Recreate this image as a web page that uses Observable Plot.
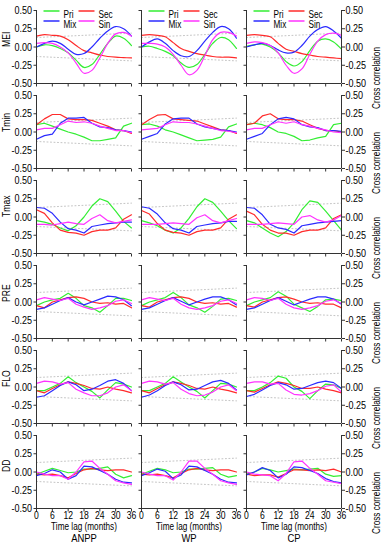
<!DOCTYPE html>
<html><head><meta charset="utf-8">
<script src="https://cdn.jsdelivr.net/npm/d3@7"></script>
<script src="https://cdn.jsdelivr.net/npm/@observablehq/plot@0.6"></script>
<style>
body{margin:0;background:#fff;}
#chart svg{display:block;}
</style></head><body><div id="chart"></div>
<script>
const lags = [0, 3, 6, 9, 12, 15, 18, 21, 24, 27, 30, 33, 36];
const xTicks = [0, 6, 12, 18, 24, 30, 36];
const yTicks = [-0.5, -0.25, 0, 0.25, 0.5];
const xDomain = [0, 36];
const yDomain = [-0.5, 0.5];
const columns = ["ANPP", "WP", "CP"];
const variables = ["MEI", "Tmin", "Tmax", "PRE", "FLO", "DD"];
const seriesNames = ["Pri", "Sec", "Mix", "Sin"];
const colors = ["#33ee33", "#ff2b2b", "#2b2bff", "#ff33ff"];
const xLabel = "Time lag (months)";
const yLabelRight = "Cross correlation";
const sigLags = [0, 36];
const sigUpper = [0.13, 0.19];
const sigLower = [-0.13, -0.19];

// each: [Pri, Sec, Mix, Sin] at lags
const MEI_ANPP = [
  [0.00, 0.03, 0.02, -0.02, -0.08, -0.18, -0.28, -0.24, -0.10, 0.05, 0.15, 0.12, 0.02],
  [0.15, 0.17, 0.16, 0.15, 0.10, 0.02, -0.05, -0.08, -0.11, -0.13, -0.14, -0.145, -0.15],
  [0.00, 0.05, 0.08, 0.05, -0.03, -0.10, -0.09, 0.00, 0.12, 0.22, 0.28, 0.25, 0.15],
  [0.05, 0.06, 0.05, 0.00, -0.08, -0.22, -0.36, -0.32, -0.15, 0.05, 0.18, 0.20, 0.15]];
const MEI_WP = [
  [0.00, 0.01, -0.02, -0.06, -0.12, -0.22, -0.28, -0.24, -0.10, 0.05, 0.13, 0.10, -0.02],
  [0.16, 0.17, 0.16, 0.14, 0.06, -0.02, -0.06, -0.09, -0.11, -0.13, -0.14, -0.14, -0.15],
  [0.00, 0.07, 0.11, 0.05, -0.05, -0.12, -0.13, -0.05, 0.08, 0.20, 0.28, 0.25, 0.12],
  [0.05, 0.05, 0.04, 0.00, -0.10, -0.25, -0.38, -0.32, -0.12, 0.10, 0.20, 0.20, 0.15]];
const MEI_CP = [
  [0.01, 0.03, 0.04, 0.00, -0.08, -0.20, -0.26, -0.20, -0.05, 0.08, 0.11, 0.07, -0.03],
  [0.16, 0.17, 0.16, 0.14, 0.05, -0.03, -0.06, -0.09, -0.11, -0.13, -0.14, -0.15, -0.16],
  [0.00, 0.03, 0.05, 0.02, -0.04, -0.08, -0.07, 0.02, 0.15, 0.24, 0.28, 0.22, 0.12],
  [0.05, 0.07, 0.06, 0.02, -0.08, -0.25, -0.36, -0.30, -0.10, 0.08, 0.17, 0.19, 0.16]];
const Tmin_ANPP = [
  [0.10, 0.12, 0.08, 0.04, 0.00, -0.03, -0.07, -0.12, -0.12, -0.10, -0.08, 0.08, 0.12],
  [0.10, 0.18, 0.24, 0.24, 0.18, 0.17, 0.17, 0.16, 0.12, 0.08, 0.03, 0.02, -0.02],
  [-0.10, -0.05, -0.03, 0.12, 0.19, 0.19, 0.20, 0.12, 0.07, 0.06, 0.03, 0.02, 0.00],
  [0.03, 0.05, 0.05, 0.10, 0.15, 0.13, 0.14, 0.12, 0.08, 0.05, 0.02, 0.02, -0.01]];
const Tmin_WP = [
  [0.10, 0.11, 0.08, 0.03, 0.00, -0.04, -0.08, -0.12, -0.11, -0.10, -0.07, 0.07, 0.11],
  [0.10, 0.17, 0.23, 0.24, 0.18, 0.17, 0.16, 0.15, 0.11, 0.07, 0.03, 0.02, -0.02],
  [-0.10, -0.06, -0.02, 0.11, 0.18, 0.19, 0.19, 0.11, 0.07, 0.05, 0.03, 0.02, 0.00],
  [0.03, 0.04, 0.05, 0.10, 0.14, 0.13, 0.13, 0.11, 0.08, 0.05, 0.02, 0.01, -0.01]];
const Tmin_CP = [
  [0.10, 0.12, 0.10, 0.06, 0.00, -0.02, -0.06, -0.12, -0.11, -0.08, -0.06, 0.10, 0.12],
  [0.10, 0.12, 0.22, 0.25, 0.18, 0.17, 0.17, 0.15, 0.10, 0.05, 0.02, 0.02, 0.00],
  [-0.10, -0.06, -0.02, 0.10, 0.18, 0.20, 0.18, 0.10, 0.07, 0.06, 0.02, 0.02, 0.01],
  [0.03, 0.05, 0.05, 0.10, 0.14, 0.12, 0.14, 0.10, 0.08, 0.05, 0.03, 0.00, -0.01]];
const Tmax_ANPP = [
  [-0.05, -0.07, -0.10, -0.15, -0.19, -0.12, 0.00, 0.15, 0.25, 0.21, 0.08, -0.06, -0.15],
  [0.10, 0.05, -0.08, -0.18, -0.21, -0.22, -0.25, -0.20, -0.18, -0.18, -0.15, -0.03, 0.03],
  [0.13, 0.12, 0.05, -0.07, -0.16, -0.18, -0.22, -0.13, -0.11, -0.09, -0.08, -0.07, -0.07],
  [-0.10, -0.10, -0.11, -0.09, -0.07, -0.09, -0.10, -0.02, 0.03, -0.05, -0.08, -0.06, -0.04]];
const Tmax_WP = [
  [-0.05, -0.08, -0.12, -0.18, -0.22, -0.15, -0.02, 0.14, 0.25, 0.20, 0.08, -0.05, -0.16],
  [0.09, 0.04, -0.09, -0.18, -0.21, -0.22, -0.25, -0.20, -0.18, -0.18, -0.15, -0.03, 0.03],
  [0.14, 0.12, 0.04, -0.08, -0.16, -0.18, -0.22, -0.13, -0.11, -0.09, -0.08, -0.06, -0.06],
  [-0.10, -0.10, -0.10, -0.09, -0.08, -0.09, -0.10, -0.01, 0.03, -0.05, -0.08, -0.05, -0.02]];
const Tmax_CP = [
  [-0.05, -0.08, -0.15, -0.22, -0.27, -0.20, -0.08, 0.10, 0.22, 0.20, 0.08, -0.05, -0.18],
  [0.08, 0.03, -0.10, -0.18, -0.22, -0.22, -0.25, -0.20, -0.18, -0.18, -0.15, -0.02, 0.03],
  [0.13, 0.12, 0.03, -0.10, -0.15, -0.17, -0.22, -0.12, -0.10, -0.08, -0.07, -0.06, -0.05],
  [-0.10, -0.10, -0.10, -0.09, -0.08, -0.09, -0.10, 0.00, 0.02, -0.04, -0.07, -0.04, 0.02]];
const PRE_ANPP = [
  [-0.05, 0.00, 0.03, 0.05, 0.12, 0.05, -0.05, -0.08, -0.14, -0.05, 0.05, 0.05, 0.02],
  [-0.05, -0.08, 0.00, 0.03, 0.06, 0.07, 0.05, 0.00, -0.02, -0.01, -0.03, -0.02, -0.08],
  [-0.10, -0.08, -0.03, 0.02, 0.06, 0.00, -0.04, 0.00, 0.04, 0.08, 0.07, 0.03, -0.05],
  [0.03, 0.06, 0.04, 0.02, 0.05, -0.03, -0.07, -0.10, -0.08, -0.05, 0.01, 0.03, -0.02]];
const PRE_WP = [
  [-0.05, 0.00, 0.03, 0.06, 0.13, 0.06, -0.04, -0.08, -0.14, -0.06, 0.04, 0.05, 0.02],
  [-0.05, -0.07, 0.00, 0.03, 0.06, 0.07, 0.05, 0.00, -0.02, -0.01, -0.03, -0.02, -0.07],
  [-0.10, -0.08, -0.03, 0.02, 0.06, 0.01, -0.04, 0.00, 0.04, 0.07, 0.07, 0.03, -0.04],
  [0.03, 0.06, 0.04, 0.02, 0.05, -0.03, -0.08, -0.10, -0.08, -0.05, 0.01, 0.03, -0.02]];
const PRE_CP = [
  [-0.05, 0.00, 0.03, 0.06, 0.14, 0.08, -0.03, -0.08, -0.13, -0.06, 0.03, 0.04, 0.02],
  [-0.05, -0.07, 0.00, 0.03, 0.06, 0.07, 0.04, 0.00, -0.02, -0.01, -0.03, -0.03, -0.08],
  [-0.10, -0.08, -0.03, 0.02, 0.06, 0.01, -0.04, 0.00, 0.04, 0.07, 0.07, 0.04, -0.03],
  [0.03, 0.06, 0.05, 0.02, 0.05, -0.03, -0.08, -0.10, -0.08, -0.05, 0.01, 0.03, -0.02]];
const FLO_ANPP = [
  [-0.05, -0.05, 0.00, 0.05, 0.14, 0.06, 0.00, -0.06, -0.15, -0.04, 0.06, 0.04, 0.00],
  [-0.05, -0.08, -0.02, 0.03, 0.07, 0.05, 0.02, -0.02, -0.03, 0.00, -0.03, -0.05, -0.08],
  [-0.14, -0.12, -0.05, 0.02, 0.07, 0.03, -0.05, -0.03, 0.02, 0.08, 0.10, 0.05, -0.05],
  [0.05, 0.08, 0.07, 0.04, 0.06, -0.03, -0.08, -0.12, -0.12, -0.08, 0.00, 0.03, -0.05]];
const FLO_WP = [
  [-0.05, -0.05, 0.00, 0.05, 0.14, 0.07, 0.00, -0.06, -0.15, -0.05, 0.05, 0.04, 0.00],
  [-0.05, -0.08, -0.02, 0.03, 0.07, 0.05, 0.02, -0.02, -0.03, 0.00, -0.03, -0.05, -0.08],
  [-0.14, -0.11, -0.05, 0.02, 0.07, 0.03, -0.04, -0.03, 0.02, 0.07, 0.09, 0.05, -0.04],
  [0.05, 0.08, 0.07, 0.04, 0.06, -0.03, -0.09, -0.12, -0.11, -0.07, 0.00, 0.03, -0.05]];
const FLO_CP = [
  [-0.05, -0.05, 0.00, 0.06, 0.15, 0.12, 0.00, -0.06, -0.16, -0.05, 0.04, 0.03, -0.02],
  [-0.05, -0.07, -0.02, 0.03, 0.07, 0.05, 0.02, -0.02, -0.02, 0.00, -0.03, -0.05, -0.08],
  [-0.13, -0.10, -0.04, 0.02, 0.06, 0.03, -0.03, -0.02, 0.02, 0.06, 0.08, 0.06, -0.02],
  [0.05, 0.07, 0.07, 0.04, 0.05, -0.04, -0.10, -0.11, -0.09, -0.05, 0.01, 0.03, -0.07]];
const DD_ANPP = [
  [-0.03, 0.01, 0.05, 0.02, -0.01, 0.00, 0.04, 0.04, 0.05, 0.07, -0.03, -0.08, -0.05],
  [-0.03, -0.04, -0.03, -0.05, -0.08, -0.02, 0.03, 0.05, 0.03, 0.02, 0.03, 0.03, 0.00],
  [-0.05, -0.02, 0.03, 0.00, -0.10, -0.05, 0.08, 0.07, 0.02, -0.03, -0.10, -0.14, -0.15],
  [0.00, -0.03, -0.05, -0.05, -0.10, 0.00, 0.14, 0.15, 0.05, -0.03, -0.12, -0.15, -0.17]];
const DD_WP = [
  [-0.03, 0.01, 0.05, 0.03, -0.01, 0.00, 0.04, 0.04, 0.05, 0.06, -0.03, -0.07, -0.05],
  [-0.03, -0.04, -0.03, -0.05, -0.08, -0.02, 0.03, 0.05, 0.03, 0.02, 0.03, 0.03, 0.00],
  [-0.05, -0.01, 0.04, 0.01, -0.09, -0.04, 0.08, 0.07, 0.02, -0.03, -0.10, -0.14, -0.15],
  [0.00, -0.03, -0.05, -0.05, -0.11, 0.00, 0.15, 0.15, 0.05, -0.03, -0.12, -0.15, -0.17]];
const DD_CP = [
  [-0.03, 0.00, 0.05, 0.03, 0.00, 0.02, 0.04, 0.03, 0.04, 0.05, -0.03, -0.06, -0.05],
  [-0.03, -0.05, -0.04, -0.04, -0.07, -0.02, 0.03, 0.03, 0.02, 0.03, 0.02, 0.04, 0.00],
  [-0.04, 0.00, 0.06, 0.02, -0.08, -0.03, 0.07, 0.06, 0.02, -0.02, -0.09, -0.13, -0.15],
  [0.00, -0.03, -0.04, -0.05, -0.12, -0.02, 0.14, 0.15, 0.05, -0.03, -0.12, -0.14, -0.16]];

const panels = {
  MEI: [MEI_ANPP, MEI_WP, MEI_CP],
  Tmin: [Tmin_ANPP, Tmin_WP, Tmin_CP],
  Tmax: [Tmax_ANPP, Tmax_WP, Tmax_CP],
  PRE: [PRE_ANPP, PRE_WP, PRE_CP],
  FLO: [FLO_ANPP, FLO_WP, FLO_CP],
  DD: [DD_ANPP, DD_WP, DD_CP]
};

const rows = [];
for (const v of variables) {
  panels[v].forEach((set, ci) => {
    set.forEach((vals, si) => {
      vals.forEach((r, i) => rows.push({variable: v, column: columns[ci], series: seriesNames[si], lag: lags[i], r}));
    });
  });
}
const sig = sigLags.map((lag, i) => ({lag, upper: sigUpper[i], lower: sigLower[i]}));

const fmt = d => d.toFixed(2);
const axisColor = "#333";
const FONT = "'Liberation Sans', Arial, sans-serif";
const SQUEEZE = 0.82; // the reference uses a condensed sans face
const lineSymbol = {draw(ctx) { ctx.moveTo(-8, 0); ctx.lineTo(8, 0); }};
const tickDown = {draw(ctx) { ctx.moveTo(0, 0); ctx.lineTo(0, 3); }};
const tickLeft = {draw(ctx) { ctx.moveTo(0, 0); ctx.lineTo(-3, 0); }};
const legendData = columns.map(c => ({column: c, variable: variables[0]}));

const marks = [
  Plot.line(sig, {x: "lag", y: "upper", stroke: "#c4c4c4", strokeWidth: 1, strokeDasharray: "1,2.5"}),
  Plot.line(sig, {x: "lag", y: "lower", stroke: "#c4c4c4", strokeWidth: 1, strokeDasharray: "1,2.5"}),
  Plot.line(rows.filter(d => d.variable === variables[0]), {x: "lag", y: "r", z: "series", stroke: "series", fx: "column", fy: "variable", curve: "catmull-rom", strokeWidth: 1.2}),
  Plot.line(rows.filter(d => d.variable !== variables[0]), {x: "lag", y: "r", z: "series", stroke: "series", fx: "column", fy: "variable", curve: "linear", strokeWidth: 1.2}),
  Plot.ruleX([xDomain[0]], {stroke: axisColor}),
  Plot.ruleY([yDomain[0]], {stroke: axisColor}),
  Plot.ruleX([columns[2]], {x: xDomain[1], fx: d => d, stroke: axisColor}),
  Plot.dot(xTicks, {x: d => d, frameAnchor: "bottom", symbol: tickDown, stroke: axisColor, fill: "none", strokeWidth: 1}),
  Plot.dot(yTicks, {y: d => d, frameAnchor: "left", symbol: tickLeft, stroke: axisColor, fill: "none", strokeWidth: 1}),
  Plot.axisX({ticks: xTicks, tickSize: 0, tickPadding: 3, tickFormat: d => String(d), label: null, fontSize: 10.5}),
  Plot.axisY({ticks: yTicks, tickSize: 0, tickPadding: 4.5, tickFormat: fmt, label: null, fontSize: 11}),
  Plot.axisY({anchor: "right", ticks: yTicks, tickSize: 3, tickPadding: 1, tickFormat: fmt, label: null, fontSize: 11, stroke: axisColor}),
  Plot.text(variables, {fy: d => d, fx: () => columns[0], text: d => d, frameAnchor: "left", dx: -30, rotate: -90, fontSize: 10.5}),
  Plot.text(variables, {fy: d => d, fx: () => columns[2], text: () => yLabelRight, frameAnchor: "right", dx: 35, rotate: -90, fontSize: 10}),
  Plot.text(columns, {fx: d => d, fy: () => variables[5], text: () => xLabel, frameAnchor: "bottom", dy: 21, fontSize: 10}),
  Plot.text(columns, {fx: d => d, fy: () => variables[5], text: d => d, frameAnchor: "bottom", dy: 33, fontSize: 11.5})
];
seriesNames.forEach((s, i) => {
  const col = i % 2, row = Math.floor(i / 2);
  marks.push(Plot.dot(legendData, {fx: "column", fy: "variable", frameAnchor: "top-left", dx: 15 + 35 * col, dy: 0.5 + 10 * row, symbol: lineSymbol, stroke: colors[i], fill: "none", strokeWidth: 1.5}));
  marks.push(Plot.text(legendData, {fx: "column", fy: "variable", frameAnchor: "top-left", dx: 27 + 35 * col, dy: 0.5 + 10 * row, text: () => s, textAnchor: "start", fontSize: 10}));
});

const chart = Plot.plot({
  width: 384,
  height: 550,
  marginLeft: 35,
  marginRight: 41,
  marginTop: 7,
  marginBottom: 39,
  style: {fontFamily: FONT, fontSize: "11px", color: "#000", background: "#fff"},
  fx: {domain: columns, paddingInner: 0.094, paddingOuter: 0, axis: null},
  fy: {domain: variables, paddingInner: 0.1395, paddingOuter: 0, axis: null},
  x: {domain: xDomain, axis: null},
  y: {domain: yDomain, axis: null},
  color: {domain: seriesNames, range: colors},
  marks
});
document.getElementById("chart").appendChild(chart);
// condense glyphs horizontally to match the reference's narrow typeface
chart.querySelectorAll("text").forEach(t => {
  if (t.querySelector("tspan")) return;
  const len = t.getComputedTextLength();
  if (len > 0) {
    t.setAttribute("textLength", (len * SQUEEZE).toFixed(2));
    t.setAttribute("lengthAdjust", "spacingAndGlyphs");
  }
});
</script></body></html>
